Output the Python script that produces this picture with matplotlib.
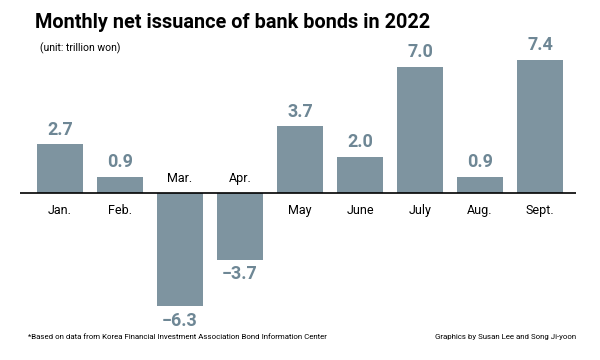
import matplotlib
matplotlib.use("Agg")
import matplotlib.pyplot as plt

months = ["Jan.", "Feb.", "Mar.", "Apr.", "May", "June", "July", "Aug.", "Sept."]
values = [2.7, 0.9, -6.3, -3.7, 3.7, 2.0, 7.0, 0.9, 7.4]

font = "Roboto"
bar_color = "#7e94a0"
label_color = "#6e8795"

fig = plt.figure(figsize=(6, 3.6), dpi=100)
ax = fig.add_axes([20/600, 40/360, 556/600, 280/360])
x = list(range(len(months)))
ax.bar(x, values, width=46/60, color=bar_color)
ax.set_xlim(-40/60, 516/60)
ax.set_ylim(-127/18, 153/18)
ax.axhline(0, color="black", lw=1.2)
ax.axis("off")

for xi, v, m in zip(x, values, months):
    if v >= 0:
        ax.annotate(f"{v:.1f}", (xi, v), xytext=(0, 4), textcoords="offset points",
                    ha="center", va="bottom", fontsize=13, fontweight="bold",
                    color=label_color, family=font)
        ax.annotate(m, (xi, 0), xytext=(0, -8), textcoords="offset points",
                    ha="center", va="top", fontsize=9, color="black", family=font)
    else:
        ax.annotate(f"\u2212{abs(v):.1f}", (xi, v), xytext=(0, -4), textcoords="offset points",
                    ha="center", va="top", fontsize=13, fontweight="bold",
                    color=label_color, family=font)
        ax.annotate(m, (xi, 0), xytext=(0, 6), textcoords="offset points",
                    ha="center", va="bottom", fontsize=9, color="black", family=font)

fig.text(35/600, 1 - 23/360, "Monthly net issuance of bank bonds in 2022", fontsize=14.3,
         fontweight="bold", family=font, va="center", ha="left")
fig.text(40/600, 1 - 48/360, "(unit: trillion won)", fontsize=7.5, family=font,
         va="center", ha="left")
fig.text(28/600, 1 - 337/360,
         "*Based on data from Korea Financial Investment Association Bond Information Center",
         fontsize=5.7, family=font, va="center", ha="left")
fig.text(576/600, 1 - 337/360, "Graphics by Susan Lee and Song Ji-yoon",
         fontsize=5.7, family=font, va="center", ha="right")

fig.savefig("out.png", dpi=100)
